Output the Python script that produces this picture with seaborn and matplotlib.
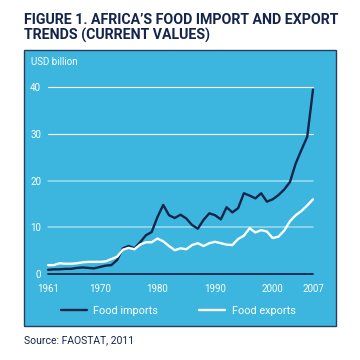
import matplotlib
matplotlib.use("Agg")
import matplotlib.pyplot as plt
from matplotlib.patches import Rectangle
import seaborn as sns
import pandas as pd

# values (USD billion, current values)
years = list(range(1961, 2008))
food_imports = [0.9, 1.0, 1.0, 1.1, 1.1, 1.3, 1.4, 1.3, 1.2, 1.5,
                1.8, 1.9, 3.0, 5.5, 6.0, 5.5, 6.8, 8.3, 9.0, 12.2,
                14.8, 12.6, 12.0, 12.7, 11.9, 10.5, 9.7, 11.6, 13.0, 12.6,
                11.7, 14.3, 13.2, 14.1, 17.3, 16.8, 16.2, 17.3, 15.5, 16.0,
                16.9, 18.1, 19.7, 23.7, 26.6, 29.4, 39.5]
food_exports = [1.9, 1.9, 2.3, 2.2, 2.2, 2.3, 2.5, 2.6, 2.6, 2.6,
                2.7, 3.2, 3.7, 5.2, 5.6, 5.3, 6.3, 6.8, 6.8, 7.6,
                7.0, 6.0, 5.1, 5.5, 5.3, 6.2, 6.6, 6.0, 6.6, 6.9,
                6.6, 6.3, 6.2, 7.5, 8.2, 9.8, 8.9, 9.4, 9.1, 7.7,
                8.0, 9.3, 11.3, 12.6, 13.5, 14.7, 16.0]
x_ticks = [1961, 1970, 1980, 1990, 2000, 2007]
y_ticks = [0, 10, 20, 30, 40]

navy = "#14244a"
panel = "#3cb6de"

df = pd.DataFrame({
    "year": years * 2,
    "value": food_imports + food_exports,
    "series": ["Food imports"] * len(years) + ["Food exports"] * len(years),
})

sns.set_theme(style="white")
plt.rcParams["font.family"] = ["Roboto", "DejaVu Sans"]

fig = plt.figure(figsize=(3.6, 3.6), dpi=100)
fig.patch.set_facecolor("white")

# blue panel behind the chart
fig.patches.append(Rectangle((24 / 360, 1 - 326 / 360), 312 / 360, 276 / 360,
                             transform=fig.transFigure, facecolor=panel,
                             edgecolor="#2c3c58", linewidth=1.0, zorder=-10))

fig.text(24 / 360, 1 - 13 / 360,
         "FIGURE 1. AFRICA\u2019S FOOD IMPORT AND EXPORT\nTRENDS (CURRENT VALUES)",
         ha="left", va="top", fontsize=10.2, fontweight="bold", color=navy,
         linespacing=1.05)

ax = fig.add_axes([48 / 360, 1 - 274 / 360, 265 / 360, 186.7 / 360])
ax.set_facecolor("none")

for t in y_ticks[1:]:
    if t >= 30:
        ax.axhline(t, color="white", lw=0.8, zorder=1)
    else:
        ax.axhline(t, color="#9ddcf0", lw=1.1, zorder=1)
ax.axhline(0, color=navy, lw=1.3, zorder=1)

sns.lineplot(data=df, x="year", y="value", hue="series",
             palette={"Food imports": navy, "Food exports": "white"},
             linewidth=1.7, ax=ax, zorder=3)
for ln in ax.lines:
    ln.set_clip_on(False)

ax.set_xlim(1961, 2007)
ax.set_ylim(0, 40)
ax.set_xticks(x_ticks)
ax.set_yticks(y_ticks)
ax.set_xlabel("")
ax.set_ylabel("")
ax.tick_params(axis="both", length=0, labelcolor="white", labelsize=7)
ax.tick_params(axis="x", pad=7)
ax.tick_params(axis="y", pad=5)
sns.despine(ax=ax, left=True, bottom=True)

fig.text(31 / 360, 1 - 62 / 360, "USD billion", ha="left", va="center",
         fontsize=7, color="white")

handles, labels = ax.get_legend_handles_labels()
ax.legend(handles, labels, loc="center", bbox_to_anchor=(178 / 360, 1 - 311 / 360),
          bbox_transform=fig.transFigure, ncol=2, frameon=False,
          fontsize=7.8, labelcolor="white", handlelength=2.4,
          handletextpad=0.6, columnspacing=3.8)

fig.text(24 / 360, 1 - 340 / 360, "Source: FAOSTAT, 2011", ha="left",
         va="center", fontsize=7.5, color=navy)

fig.savefig("out.png", dpi=100, facecolor="white")
